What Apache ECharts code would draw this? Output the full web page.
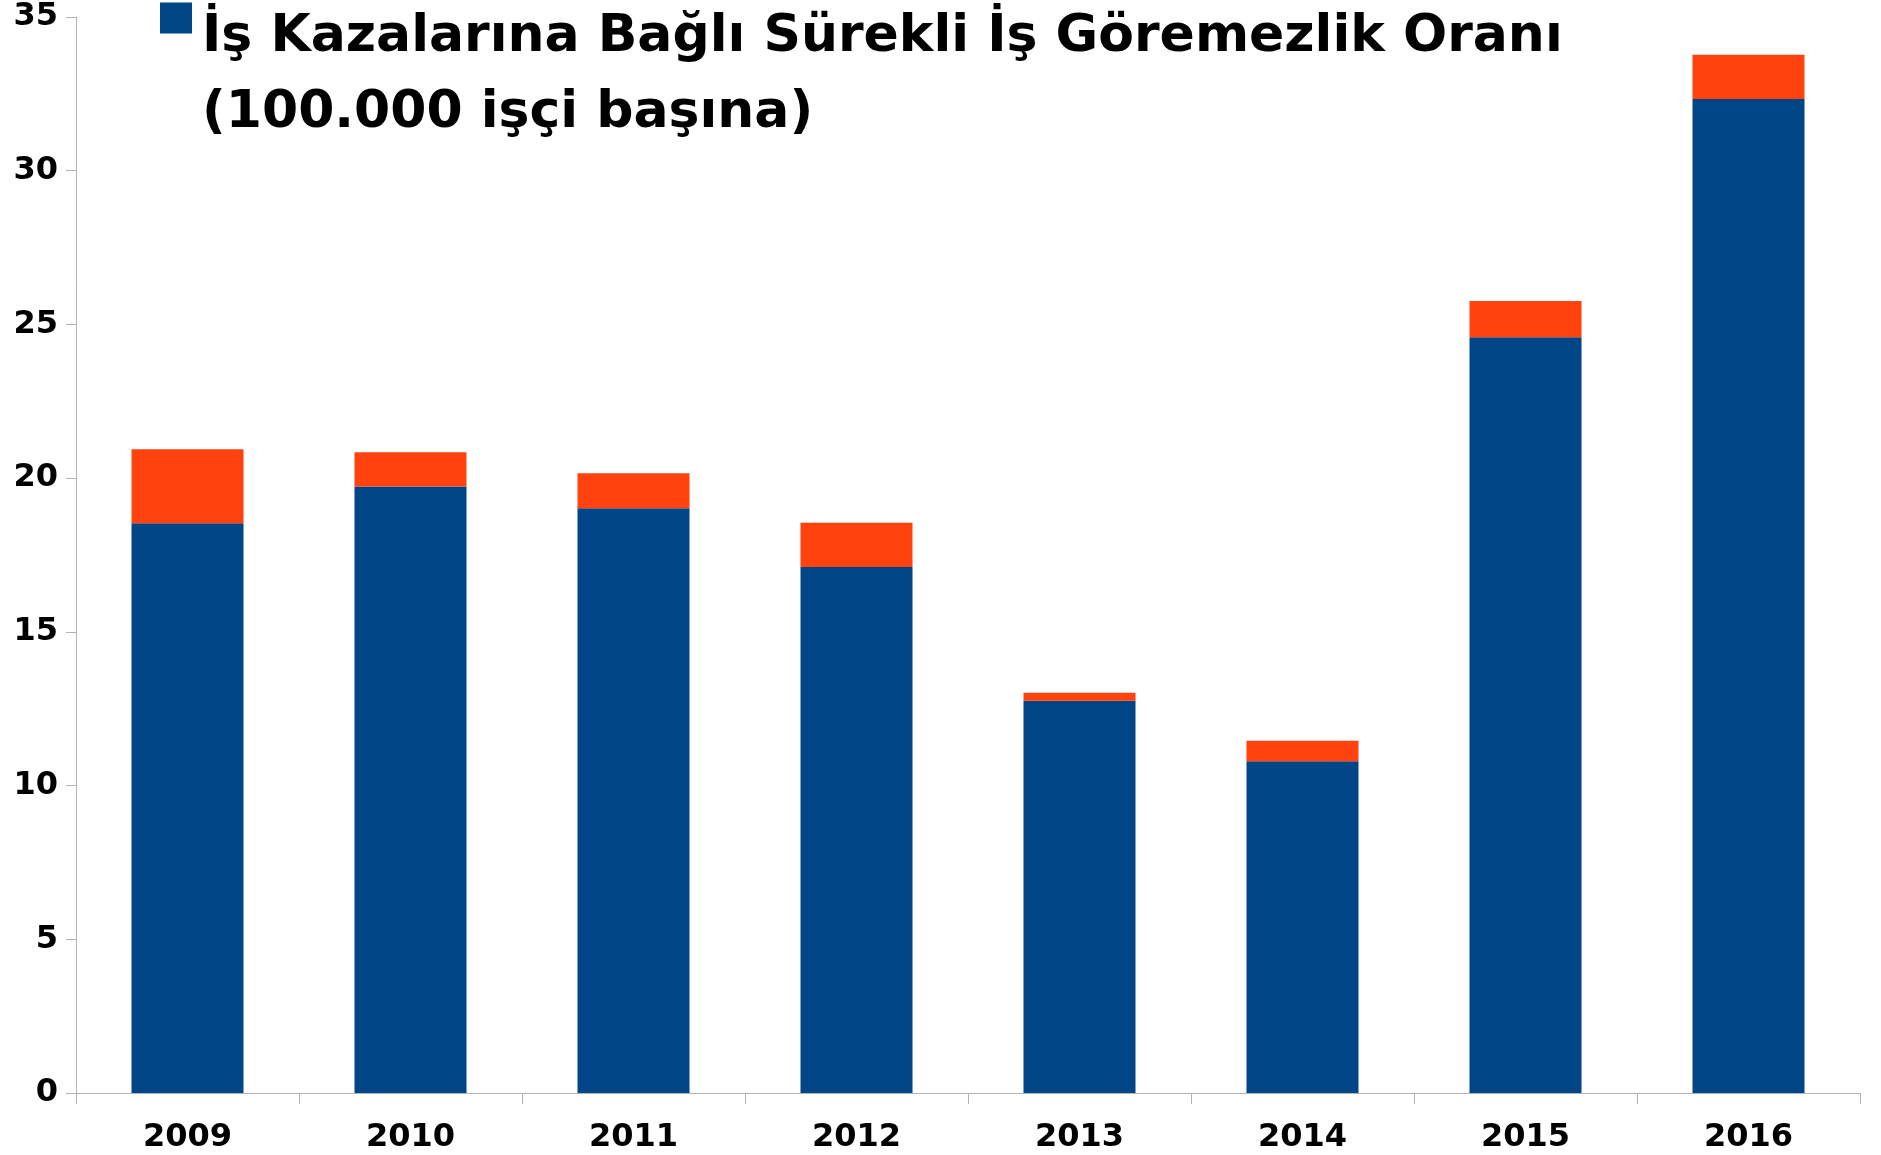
<!DOCTYPE html>
<html>
<head>
  <meta charset="utf-8">
  <title>İş Kazaları</title>
  <script src="https://cdn.jsdelivr.net/npm/echarts@6/dist/echarts.min.js"></script>
  <style>
    html, body { margin: 0; padding: 0; background: #fff; }
    #chart { width: 1881px; height: 1155px; }
  </style>
</head>
<body>
  <div id="chart"></div>
  <script>
    // values
    var years = ['2009', '2010', '2011', '2012', '2013', '2014', '2015', '2016'];
    var surekli = [18.53, 19.73, 19.02, 17.11, 12.76, 10.79, 24.58, 32.33];
    var ek = [2.41, 1.11, 1.14, 1.44, 0.26, 0.67, 1.18, 1.44];
    var legendName = 'İş Kazalarına Bağlı Sürekli İş Göremezlik Oranı\n(100.000 işçi başına)';

    var font = 'DejaVu Sans';
    var axisGray = '#b3b3b3';

    var chart = echarts.init(document.getElementById('chart'));
    chart.setOption({
      backgroundColor: '#ffffff',
      animation: false,
      grid: { left: 76, right: 21, top: 17, bottom: 62 },
      legend: {
        data: [legendName],
        left: 155,
        top: -68,
        icon: 'rect',
        itemWidth: 32,
        itemHeight: 31,
        itemGap: 12,
        // empty spacer line so the square sits level with the top of the first line
        formatter: function (name) {
          return '{s| }\n' + name.split('\n').map(function (l) { return '{t|' + l + '}'; }).join('\n');
        },
        textStyle: {
          color: '#000',
          rich: {
            s: { fontSize: 10, lineHeight: 114 },
            t: {
              fontFamily: font,
              fontWeight: 'bold',
              fontSize: 52,
              lineHeight: 76,
              padding: [0, 0, 0, 5],
              color: '#000'
            }
          }
        }
      },
      xAxis: {
        type: 'category',
        data: years,
        axisLine: { lineStyle: { color: axisGray, width: 1 } },
        axisTick: { show: true, length: 11, alignWithLabel: false, lineStyle: { color: axisGray } },
        axisLabel: {
          margin: 29,
          fontFamily: font,
          fontWeight: 'bold',
          fontSize: 32,
          color: '#000'
        }
      },
      yAxis: {
        type: 'value',
        min: 0,
        max: 35,
        interval: 5,
        splitLine: { show: false },
        axisLine: { show: true, lineStyle: { color: axisGray, width: 1 } },
        axisTick: { show: true, length: 10, lineStyle: { color: axisGray } },
        axisLabel: {
          margin: 18,
          fontFamily: font,
          fontWeight: 'bold',
          fontSize: 32,
          color: '#000'
        }
      },
      series: [
        {
          name: legendName,
          type: 'bar',
          stack: 'toplam',
          data: surekli,
          barWidth: 112,
          itemStyle: { color: '#004586' }
        },
        {
          name: 'Diğer',
          type: 'bar',
          stack: 'toplam',
          data: ek,
          barWidth: 112,
          itemStyle: { color: '#ff420e' }
        }
      ]
    });
  </script>
</body>
</html>
